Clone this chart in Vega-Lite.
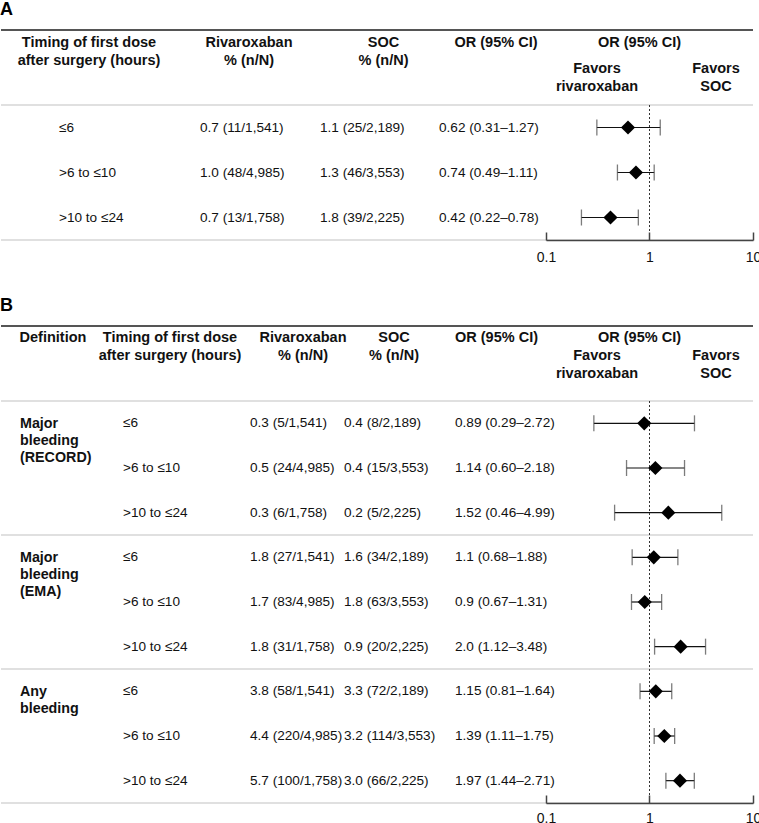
{
  "$schema": "https://vega.github.io/schema/vega-lite/v6.json",
  "background": "white",
  "padding": {"top": 1, "left": 0, "right": 0, "bottom": 0},
  "spacing": 33,
  "config": {
    "view": {"stroke": null},
    "concat": {"spacing": 0},
    "text": {"font": "Liberation Sans", "color": "#111"},
    "title": {"font": "Liberation Sans", "fontSize": 18, "fontWeight": "bold", "anchor": "start", "offset": 10, "color": "#000"}
  },
  "datasets": {
    "a": [
      {"timing": "≤6", "riva": "0.7 (11/1,541)", "soc": "1.1 (25/2,189)", "ci": "0.62 (0.31–1.27)", "est": 0.62, "lo": 0.31, "hi": 1.27},
      {"timing": ">6 to ≤10", "riva": "1.0 (48/4,985)", "soc": "1.3 (46/3,553)", "ci": "0.74 (0.49–1.11)", "est": 0.74, "lo": 0.49, "hi": 1.11},
      {"timing": ">10 to ≤24", "riva": "0.7 (13/1,758)", "soc": "1.8 (39/2,225)", "ci": "0.42 (0.22–0.78)", "est": 0.42, "lo": 0.22, "hi": 0.78}
    ],
    "b": [
      {"id": "RECORD ≤6", "definition": "Major bleeding (RECORD)", "timing": "≤6", "riva": "0.3 (5/1,541)", "soc": "0.4 (8/2,189)", "ci": "0.89 (0.29–2.72)", "est": 0.89, "lo": 0.29, "hi": 2.72},
      {"id": "RECORD >6 to ≤10", "definition": "Major bleeding (RECORD)", "timing": ">6 to ≤10", "riva": "0.5 (24/4,985)", "soc": "0.4 (15/3,553)", "ci": "1.14 (0.60–2.18)", "est": 1.14, "lo": 0.60, "hi": 2.18},
      {"id": "RECORD >10 to ≤24", "definition": "Major bleeding (RECORD)", "timing": ">10 to ≤24", "riva": "0.3 (6/1,758)", "soc": "0.2 (5/2,225)", "ci": "1.52 (0.46–4.99)", "est": 1.52, "lo": 0.46, "hi": 4.99},
      {"id": "EMA ≤6", "definition": "Major bleeding (EMA)", "timing": "≤6", "riva": "1.8 (27/1,541)", "soc": "1.6 (34/2,189)", "ci": "1.1 (0.68–1.88)", "est": 1.1, "lo": 0.68, "hi": 1.88},
      {"id": "EMA >6 to ≤10", "definition": "Major bleeding (EMA)", "timing": ">6 to ≤10", "riva": "1.7 (83/4,985)", "soc": "1.8 (63/3,553)", "ci": "0.9 (0.67–1.31)", "est": 0.9, "lo": 0.67, "hi": 1.31},
      {"id": "EMA >10 to ≤24", "definition": "Major bleeding (EMA)", "timing": ">10 to ≤24", "riva": "1.8 (31/1,758)", "soc": "0.9 (20/2,225)", "ci": "2.0 (1.12–3.48)", "est": 2.0, "lo": 1.12, "hi": 3.48},
      {"id": "Any ≤6", "definition": "Any bleeding", "timing": "≤6", "riva": "3.8 (58/1,541)", "soc": "3.3 (72/2,189)", "ci": "1.15 (0.81–1.64)", "est": 1.15, "lo": 0.81, "hi": 1.64},
      {"id": "Any >6 to ≤10", "definition": "Any bleeding", "timing": ">6 to ≤10", "riva": "4.4 (220/4,985)", "soc": "3.2 (114/3,553)", "ci": "1.39 (1.11–1.75)", "est": 1.39, "lo": 1.11, "hi": 1.75},
      {"id": "Any >10 to ≤24", "definition": "Any bleeding", "timing": ">10 to ≤24", "riva": "5.7 (100/1,758)", "soc": "3.0 (66/2,225)", "ci": "1.97 (1.44–2.71)", "est": 1.97, "lo": 1.44, "hi": 2.71}
    ]
  },
  "vconcat": [
    {
      "title": {"text": "A"},
      "spacing": 0,
      "vconcat": [
        {
          "bounds": "flush",
          "spacing": 0,
          "hconcat": [
            {"width": 176, "height": 74, "data": {"values": [{"label": "Timing of first dose\nafter surgery (hours)"}]},
             "layer": [
               {"mark": {"type": "rule", "color": "#555", "strokeWidth": 2}, "encoding": {"y": {"datum": "h", "type": "nominal", "bandPosition": 0, "scale": {"type": "band", "domain": ["h"], "paddingInner": 0, "paddingOuter": 0}, "axis": null}}},
               {"mark": {"type": "text", "align": "center", "baseline": "top", "fontSize": 14.5, "fontWeight": "bold", "lineBreak": "\n", "lineHeight": 18}, "encoding": {"y": {"datum": "h", "type": "nominal", "bandPosition": 0.08, "axis": null}, "text": {"field": "label"}}}
             ]},
            {"width": 144, "height": 74, "data": {"values": [{"label": "Rivaroxaban\n% (n/N)"}]},
             "layer": [
               {"mark": {"type": "rule", "color": "#555", "strokeWidth": 2}, "encoding": {"y": {"datum": "h", "type": "nominal", "bandPosition": 0, "scale": {"type": "band", "domain": ["h"], "paddingInner": 0, "paddingOuter": 0}, "axis": null}}},
               {"mark": {"type": "text", "align": "center", "baseline": "top", "fontSize": 14.5, "fontWeight": "bold", "lineBreak": "\n", "lineHeight": 18}, "encoding": {"y": {"datum": "h", "type": "nominal", "bandPosition": 0.08, "axis": null}, "text": {"field": "label"}}}
             ]},
            {"width": 125, "height": 74, "data": {"values": [{"label": "SOC\n% (n/N)"}]},
             "layer": [
               {"mark": {"type": "rule", "color": "#555", "strokeWidth": 2}, "encoding": {"y": {"datum": "h", "type": "nominal", "bandPosition": 0, "scale": {"type": "band", "domain": ["h"], "paddingInner": 0, "paddingOuter": 0}, "axis": null}}},
               {"mark": {"type": "text", "align": "center", "baseline": "top", "fontSize": 14.5, "fontWeight": "bold", "lineBreak": "\n", "lineHeight": 18}, "encoding": {"y": {"datum": "h", "type": "nominal", "bandPosition": 0.08, "axis": null}, "text": {"field": "label"}}}
             ]},
            {"width": 100, "height": 74, "data": {"values": [{"label": "OR (95% CI)"}]},
             "layer": [
               {"mark": {"type": "rule", "color": "#555", "strokeWidth": 2}, "encoding": {"y": {"datum": "h", "type": "nominal", "bandPosition": 0, "scale": {"type": "band", "domain": ["h"], "paddingInner": 0, "paddingOuter": 0}, "axis": null}}},
               {"mark": {"type": "text", "align": "center", "baseline": "top", "fontSize": 14.5, "fontWeight": "bold", "lineBreak": "\n", "lineHeight": 18}, "encoding": {"y": {"datum": "h", "type": "nominal", "bandPosition": 0.08, "axis": null}, "text": {"field": "label"}}}
             ]},
            {"width": 207, "height": 74,
             "layer": [
               {"data": {"values": [{"label": "OR (95% CI)"}]}, "mark": {"type": "rule", "color": "#555", "strokeWidth": 2}, "encoding": {"y": {"datum": "h", "type": "nominal", "bandPosition": 0, "scale": {"type": "band", "domain": ["h"], "paddingInner": 0, "paddingOuter": 0}, "axis": null}}},
               {"data": {"values": [{"label": "OR (95% CI)"}]}, "mark": {"type": "text", "align": "center", "baseline": "top", "fontSize": 14.5, "fontWeight": "bold", "dx": -10}, "encoding": {"y": {"datum": "h", "type": "nominal", "bandPosition": 0.08, "axis": null}, "text": {"field": "label"}}},
               {"data": {"values": [{"label": "Favors\nrivaroxaban", "side": "rivaroxaban"}, {"label": "Favors\nSOC", "side": "SOC"}]}, "mark": {"type": "text", "align": "center", "baseline": "top", "fontSize": 14.5, "fontWeight": "bold", "lineBreak": "\n", "lineHeight": 18}, "encoding": {"x": {"field": "side", "type": "nominal", "scale": {"type": "point", "domain": ["rivaroxaban", "SOC"], "range": [51, 170], "padding": 0}, "axis": null}, "y": {"datum": "h", "type": "nominal", "bandPosition": 0.428, "axis": null}, "text": {"field": "label"}}}
             ]}
          ]
        },
        {
          "bounds": "flush",
          "spacing": 0,
          "hconcat": [
            {"width": 116, "height": 135, "data": {"name": "a"},
             "layer": [
               {"transform": [{"filter": "datum.timing === '≤6'"}], "mark": {"type": "rule", "color": "#e0e0e0", "strokeWidth": 2}, "encoding": {"y": {"field": "timing", "type": "nominal", "bandPosition": 0, "scale": {"type": "band", "domain": ["≤6", ">6 to ≤10", ">10 to ≤24"], "paddingInner": 0, "paddingOuter": 0}, "axis": null}}},
               {"transform": [{"filter": "datum.timing === '>10 to ≤24'"}], "mark": {"type": "rule", "color": "#e0e0e0", "strokeWidth": 2}, "encoding": {"y": {"field": "timing", "type": "nominal", "bandPosition": 1, "axis": null}}},
               {"mark": {"type": "text", "align": "left", "baseline": "middle", "fontSize": 13.6}, "encoding": {"y": {"field": "timing", "type": "nominal", "axis": null}, "text": {"field": "timing"}}}
             ]},
            {"width": 166, "height": 135, "data": {"name": "a"},
             "layer": [
               {"transform": [{"filter": "datum.timing === '≤6'"}], "mark": {"type": "rule", "color": "#e0e0e0", "strokeWidth": 2}, "encoding": {"y": {"field": "timing", "type": "nominal", "bandPosition": 0, "scale": {"type": "band", "domain": ["≤6", ">6 to ≤10", ">10 to ≤24"], "paddingInner": 0, "paddingOuter": 0}, "axis": null}}},
               {"transform": [{"filter": "datum.timing === '>10 to ≤24'"}], "mark": {"type": "rule", "color": "#e0e0e0", "strokeWidth": 2}, "encoding": {"y": {"field": "timing", "type": "nominal", "bandPosition": 1, "axis": null}}},
               {"mark": {"type": "text", "align": "left", "baseline": "middle", "fontSize": 13.6}, "encoding": {"y": {"field": "timing", "type": "nominal", "axis": null}, "text": {"field": "riva"}}}
             ]},
            {"width": 74, "height": 135, "data": {"name": "a"},
             "layer": [
               {"transform": [{"filter": "datum.timing === '≤6'"}], "mark": {"type": "rule", "color": "#e0e0e0", "strokeWidth": 2}, "encoding": {"y": {"field": "timing", "type": "nominal", "bandPosition": 0, "scale": {"type": "band", "domain": ["≤6", ">6 to ≤10", ">10 to ≤24"], "paddingInner": 0, "paddingOuter": 0}, "axis": null}}},
               {"transform": [{"filter": "datum.timing === '>10 to ≤24'"}], "mark": {"type": "rule", "color": "#e0e0e0", "strokeWidth": 2}, "encoding": {"y": {"field": "timing", "type": "nominal", "bandPosition": 1, "axis": null}}},
               {"mark": {"type": "text", "align": "left", "baseline": "middle", "fontSize": 13.6}, "encoding": {"y": {"field": "timing", "type": "nominal", "axis": null}, "text": {"field": "soc"}}}
             ]},
            {"width": 164, "height": 135, "data": {"name": "a"},
             "layer": [
               {"transform": [{"filter": "datum.timing === '≤6'"}], "mark": {"type": "rule", "color": "#e0e0e0", "strokeWidth": 2}, "encoding": {"y": {"field": "timing", "type": "nominal", "bandPosition": 0, "scale": {"type": "band", "domain": ["≤6", ">6 to ≤10", ">10 to ≤24"], "paddingInner": 0, "paddingOuter": 0}, "axis": null}}},
               {"transform": [{"filter": "datum.timing === '>10 to ≤24'"}], "mark": {"type": "rule", "color": "#e0e0e0", "strokeWidth": 2}, "encoding": {"y": {"field": "timing", "type": "nominal", "bandPosition": 1, "axis": null}}},
               {"mark": {"type": "text", "align": "left", "baseline": "middle", "fontSize": 13.6}, "encoding": {"y": {"field": "timing", "type": "nominal", "axis": null}, "text": {"field": "ci"}}}
             ]},
            {"width": 232, "height": 135, "data": {"name": "a"},
             "layer": [
               {"transform": [{"filter": "datum.timing === '≤6'"}], "mark": {"type": "rule", "color": "#e0e0e0", "strokeWidth": 2}, "encoding": {"y": {"field": "timing", "type": "nominal", "bandPosition": 0, "scale": {"type": "band", "domain": ["≤6", ">6 to ≤10", ">10 to ≤24"], "paddingInner": 0, "paddingOuter": 0}, "axis": null}}},
               {"transform": [{"filter": "datum.timing === '>10 to ≤24'"}], "mark": {"type": "rule", "color": "#e0e0e0", "strokeWidth": 2}, "encoding": {"y": {"field": "timing", "type": "nominal", "bandPosition": 1, "axis": null}}},
               {"mark": {"type": "rule", "color": "#111", "strokeWidth": 1.2}, "encoding": {"x": {"field": "lo", "type": "quantitative", "scale": {"type": "log", "domain": [0.1, 10], "range": [25, 232]}, "axis": {"orient": "bottom", "values": [0.1, 1, 10], "format": "~g", "grid": false, "title": null, "zindex": 1, "domainColor": "#444", "domainWidth": 1.5, "tickColor": "#444", "tickWidth": 1.5, "tickSize": -8, "labelFontSize": 14, "labelColor": "#111", "labelFont": "Liberation Sans", "labelPadding": 18, "labelFlush": false}}, "x2": {"field": "hi"}, "y": {"field": "timing", "type": "nominal", "axis": null}}},
               {"mark": {"type": "tick", "orient": "vertical", "size": 16, "thickness": 1.3, "color": "#444"}, "encoding": {"x": {"field": "lo", "type": "quantitative"}, "y": {"field": "timing", "type": "nominal", "axis": null}}},
               {"mark": {"type": "tick", "orient": "vertical", "size": 16, "thickness": 1.3, "color": "#444"}, "encoding": {"x": {"field": "hi", "type": "quantitative"}, "y": {"field": "timing", "type": "nominal", "axis": null}}},
               {"data": {"values": [{"ref": 1}]}, "mark": {"type": "rule", "color": "#333", "strokeWidth": 1, "strokeDash": [2, 2]}, "encoding": {"x": {"field": "ref", "type": "quantitative"}}},
               {"mark": {"type": "point", "shape": "diamond", "filled": true, "color": "#000", "opacity": 1, "size": 200}, "encoding": {"x": {"field": "est", "type": "quantitative"}, "y": {"field": "timing", "type": "nominal", "axis": null}}}
             ]}
          ]
        }
      ]
    },
    {
      "title": {"text": "B"},
      "spacing": 0,
      "vconcat": [
        {
          "bounds": "flush",
          "spacing": 0,
          "hconcat": [
            {"width": 104, "height": 74, "data": {"values": [{"label": "Definition"}]},
             "layer": [
               {"mark": {"type": "rule", "color": "#555", "strokeWidth": 2}, "encoding": {"y": {"datum": "h", "type": "nominal", "bandPosition": 0, "scale": {"type": "band", "domain": ["h"], "paddingInner": 0, "paddingOuter": 0}, "axis": null}}},
               {"mark": {"type": "text", "align": "center", "baseline": "top", "fontSize": 14.5, "fontWeight": "bold", "lineBreak": "\n", "lineHeight": 18}, "encoding": {"y": {"datum": "h", "type": "nominal", "bandPosition": 0.069, "axis": null}, "text": {"field": "label"}}}
             ]},
            {"width": 130, "height": 74, "data": {"values": [{"label": "Timing of first dose\nafter surgery (hours)"}]},
             "layer": [
               {"mark": {"type": "rule", "color": "#555", "strokeWidth": 2}, "encoding": {"y": {"datum": "h", "type": "nominal", "bandPosition": 0, "scale": {"type": "band", "domain": ["h"], "paddingInner": 0, "paddingOuter": 0}, "axis": null}}},
               {"mark": {"type": "text", "align": "center", "baseline": "top", "fontSize": 14.5, "fontWeight": "bold", "lineBreak": "\n", "lineHeight": 18}, "encoding": {"y": {"datum": "h", "type": "nominal", "bandPosition": 0.069, "axis": null}, "text": {"field": "label"}}}
             ]},
            {"width": 136, "height": 74, "data": {"values": [{"label": "Rivaroxaban\n% (n/N)"}]},
             "layer": [
               {"mark": {"type": "rule", "color": "#555", "strokeWidth": 2}, "encoding": {"y": {"datum": "h", "type": "nominal", "bandPosition": 0, "scale": {"type": "band", "domain": ["h"], "paddingInner": 0, "paddingOuter": 0}, "axis": null}}},
               {"mark": {"type": "text", "align": "center", "baseline": "top", "fontSize": 14.5, "fontWeight": "bold", "lineBreak": "\n", "lineHeight": 18}, "encoding": {"y": {"datum": "h", "type": "nominal", "bandPosition": 0.069, "axis": null}, "text": {"field": "label"}}}
             ]},
            {"width": 46, "height": 74, "data": {"values": [{"label": "SOC\n% (n/N)"}]},
             "layer": [
               {"mark": {"type": "rule", "color": "#555", "strokeWidth": 2}, "encoding": {"y": {"datum": "h", "type": "nominal", "bandPosition": 0, "scale": {"type": "band", "domain": ["h"], "paddingInner": 0, "paddingOuter": 0}, "axis": null}}},
               {"mark": {"type": "text", "align": "center", "baseline": "top", "fontSize": 14.5, "fontWeight": "bold", "lineBreak": "\n", "lineHeight": 18}, "encoding": {"y": {"datum": "h", "type": "nominal", "bandPosition": 0.069, "axis": null}, "text": {"field": "label"}}}
             ]},
            {"width": 129, "height": 74, "data": {"values": [{"label": "OR (95% CI)"}]},
             "layer": [
               {"mark": {"type": "rule", "color": "#555", "strokeWidth": 2}, "encoding": {"y": {"datum": "h", "type": "nominal", "bandPosition": 0, "scale": {"type": "band", "domain": ["h"], "paddingInner": 0, "paddingOuter": 0}, "axis": null}}},
               {"mark": {"type": "text", "align": "center", "baseline": "top", "fontSize": 14.5, "fontWeight": "bold", "dx": 15}, "encoding": {"y": {"datum": "h", "type": "nominal", "bandPosition": 0.069, "axis": null}, "text": {"field": "label"}}}
             ]},
            {"width": 207, "height": 74,
             "layer": [
               {"data": {"values": [{"label": "OR (95% CI)"}]}, "mark": {"type": "rule", "color": "#555", "strokeWidth": 2}, "encoding": {"y": {"datum": "h", "type": "nominal", "bandPosition": 0, "scale": {"type": "band", "domain": ["h"], "paddingInner": 0, "paddingOuter": 0}, "axis": null}}},
               {"data": {"values": [{"label": "OR (95% CI)"}]}, "mark": {"type": "text", "align": "center", "baseline": "top", "fontSize": 14.5, "fontWeight": "bold", "dx": -10}, "encoding": {"y": {"datum": "h", "type": "nominal", "bandPosition": 0.069, "axis": null}, "text": {"field": "label"}}},
               {"data": {"values": [{"label": "Favors\nrivaroxaban", "side": "rivaroxaban"}, {"label": "Favors\nSOC", "side": "SOC"}]}, "mark": {"type": "text", "align": "center", "baseline": "top", "fontSize": 14.5, "fontWeight": "bold", "lineBreak": "\n", "lineHeight": 18}, "encoding": {"x": {"field": "side", "type": "nominal", "scale": {"type": "point", "domain": ["rivaroxaban", "SOC"], "range": [51, 170], "padding": 0}, "axis": null}, "y": {"datum": "h", "type": "nominal", "bandPosition": 0.308, "axis": null}, "text": {"field": "label"}}}
             ]}
          ]
        },
        {
          "bounds": "flush",
          "spacing": 0,
          "hconcat": [
            {"width": 38, "height": 402, "data": {"name": "b"},
             "layer": [
               {"transform": [{"filter": "datum.timing === '≤6'"}], "mark": {"type": "rule", "color": "#e0e0e0", "strokeWidth": 2}, "encoding": {"y": {"field": "id", "type": "nominal", "bandPosition": 0, "scale": {"type": "band", "domain": ["RECORD ≤6", "RECORD >6 to ≤10", "RECORD >10 to ≤24", "EMA ≤6", "EMA >6 to ≤10", "EMA >10 to ≤24", "Any ≤6", "Any >6 to ≤10", "Any >10 to ≤24"], "paddingInner": 0, "paddingOuter": 0}, "axis": null}}},
               {"transform": [{"filter": "datum.timing === '>10 to ≤24'"}], "mark": {"type": "rule", "color": "#e0e0e0", "strokeWidth": 2}, "encoding": {"y": {"field": "id", "type": "nominal", "bandPosition": 1, "axis": null}}},
               {"transform": [{"filter": "datum.timing === '≤6'"}], "mark": {"type": "text", "align": "left", "baseline": "top", "fontSize": 14.3, "fontWeight": "bold", "lineBreak": " ", "lineHeight": 17}, "encoding": {"y": {"field": "id", "type": "nominal", "bandPosition": 0.36, "axis": null}, "text": {"field": "definition"}}}
             ]},
            {"width": 168, "height": 402, "data": {"name": "b"},
             "layer": [
               {"transform": [{"filter": "datum.timing === '≤6'"}], "mark": {"type": "rule", "color": "#e0e0e0", "strokeWidth": 2}, "encoding": {"y": {"field": "id", "type": "nominal", "bandPosition": 0, "scale": {"type": "band", "domain": ["RECORD ≤6", "RECORD >6 to ≤10", "RECORD >10 to ≤24", "EMA ≤6", "EMA >6 to ≤10", "EMA >10 to ≤24", "Any ≤6", "Any >6 to ≤10", "Any >10 to ≤24"], "paddingInner": 0, "paddingOuter": 0}, "axis": null}}},
               {"transform": [{"filter": "datum.timing === '>10 to ≤24'"}], "mark": {"type": "rule", "color": "#e0e0e0", "strokeWidth": 2}, "encoding": {"y": {"field": "id", "type": "nominal", "bandPosition": 1, "axis": null}}},
               {"mark": {"type": "text", "align": "left", "baseline": "middle", "fontSize": 13.6}, "encoding": {"y": {"field": "id", "type": "nominal", "axis": null}, "text": {"field": "timing"}}}
             ]},
            {"width": 86, "height": 402, "data": {"name": "b"},
             "layer": [
               {"transform": [{"filter": "datum.timing === '≤6'"}], "mark": {"type": "rule", "color": "#e0e0e0", "strokeWidth": 2}, "encoding": {"y": {"field": "id", "type": "nominal", "bandPosition": 0, "scale": {"type": "band", "domain": ["RECORD ≤6", "RECORD >6 to ≤10", "RECORD >10 to ≤24", "EMA ≤6", "EMA >6 to ≤10", "EMA >10 to ≤24", "Any ≤6", "Any >6 to ≤10", "Any >10 to ≤24"], "paddingInner": 0, "paddingOuter": 0}, "axis": null}}},
               {"transform": [{"filter": "datum.timing === '>10 to ≤24'"}], "mark": {"type": "rule", "color": "#e0e0e0", "strokeWidth": 2}, "encoding": {"y": {"field": "id", "type": "nominal", "bandPosition": 1, "axis": null}}},
               {"mark": {"type": "text", "align": "left", "baseline": "middle", "fontSize": 13.6}, "encoding": {"y": {"field": "id", "type": "nominal", "axis": null}, "text": {"field": "riva"}}}
             ]},
            {"width": 102, "height": 402, "data": {"name": "b"},
             "layer": [
               {"transform": [{"filter": "datum.timing === '≤6'"}], "mark": {"type": "rule", "color": "#e0e0e0", "strokeWidth": 2}, "encoding": {"y": {"field": "id", "type": "nominal", "bandPosition": 0, "scale": {"type": "band", "domain": ["RECORD ≤6", "RECORD >6 to ≤10", "RECORD >10 to ≤24", "EMA ≤6", "EMA >6 to ≤10", "EMA >10 to ≤24", "Any ≤6", "Any >6 to ≤10", "Any >10 to ≤24"], "paddingInner": 0, "paddingOuter": 0}, "axis": null}}},
               {"transform": [{"filter": "datum.timing === '>10 to ≤24'"}], "mark": {"type": "rule", "color": "#e0e0e0", "strokeWidth": 2}, "encoding": {"y": {"field": "id", "type": "nominal", "bandPosition": 1, "axis": null}}},
               {"mark": {"type": "text", "align": "left", "baseline": "middle", "fontSize": 13.6}, "encoding": {"y": {"field": "id", "type": "nominal", "axis": null}, "text": {"field": "soc"}}}
             ]},
            {"width": 120, "height": 402, "data": {"name": "b"},
             "layer": [
               {"transform": [{"filter": "datum.timing === '≤6'"}], "mark": {"type": "rule", "color": "#e0e0e0", "strokeWidth": 2}, "encoding": {"y": {"field": "id", "type": "nominal", "bandPosition": 0, "scale": {"type": "band", "domain": ["RECORD ≤6", "RECORD >6 to ≤10", "RECORD >10 to ≤24", "EMA ≤6", "EMA >6 to ≤10", "EMA >10 to ≤24", "Any ≤6", "Any >6 to ≤10", "Any >10 to ≤24"], "paddingInner": 0, "paddingOuter": 0}, "axis": null}}},
               {"transform": [{"filter": "datum.timing === '>10 to ≤24'"}], "mark": {"type": "rule", "color": "#e0e0e0", "strokeWidth": 2}, "encoding": {"y": {"field": "id", "type": "nominal", "bandPosition": 1, "axis": null}}},
               {"mark": {"type": "text", "align": "left", "baseline": "middle", "fontSize": 13.6}, "encoding": {"y": {"field": "id", "type": "nominal", "axis": null}, "text": {"field": "ci"}}}
             ]},
            {"width": 238, "height": 402, "data": {"name": "b"},
             "layer": [
               {"transform": [{"filter": "datum.timing === '≤6'"}], "mark": {"type": "rule", "color": "#e0e0e0", "strokeWidth": 2}, "encoding": {"y": {"field": "id", "type": "nominal", "bandPosition": 0, "scale": {"type": "band", "domain": ["RECORD ≤6", "RECORD >6 to ≤10", "RECORD >10 to ≤24", "EMA ≤6", "EMA >6 to ≤10", "EMA >10 to ≤24", "Any ≤6", "Any >6 to ≤10", "Any >10 to ≤24"], "paddingInner": 0, "paddingOuter": 0}, "axis": null}}},
               {"transform": [{"filter": "datum.timing === '>10 to ≤24'"}], "mark": {"type": "rule", "color": "#e0e0e0", "strokeWidth": 2}, "encoding": {"y": {"field": "id", "type": "nominal", "bandPosition": 1, "axis": null}}},
               {"mark": {"type": "rule", "color": "#111", "strokeWidth": 1.2}, "encoding": {"x": {"field": "lo", "type": "quantitative", "scale": {"type": "log", "domain": [0.1, 10], "range": [31, 238]}, "axis": {"orient": "bottom", "values": [0.1, 1, 10], "format": "~g", "grid": false, "title": null, "zindex": 1, "domainColor": "#444", "domainWidth": 1.5, "tickColor": "#444", "tickWidth": 1.5, "tickSize": -8, "labelFontSize": 14, "labelColor": "#111", "labelFont": "Liberation Sans", "labelPadding": 16, "labelFlush": false}}, "x2": {"field": "hi"}, "y": {"field": "id", "type": "nominal", "axis": null}}},
               {"mark": {"type": "tick", "orient": "vertical", "size": 16, "thickness": 1.3, "color": "#444"}, "encoding": {"x": {"field": "lo", "type": "quantitative"}, "y": {"field": "id", "type": "nominal", "axis": null}}},
               {"mark": {"type": "tick", "orient": "vertical", "size": 16, "thickness": 1.3, "color": "#444"}, "encoding": {"x": {"field": "hi", "type": "quantitative"}, "y": {"field": "id", "type": "nominal", "axis": null}}},
               {"data": {"values": [{"ref": 1}]}, "mark": {"type": "rule", "color": "#333", "strokeWidth": 1, "strokeDash": [2, 2]}, "encoding": {"x": {"field": "ref", "type": "quantitative"}}},
               {"mark": {"type": "point", "shape": "diamond", "filled": true, "color": "#000", "opacity": 1, "size": 200}, "encoding": {"x": {"field": "est", "type": "quantitative"}, "y": {"field": "id", "type": "nominal", "axis": null}}}
             ]}
          ]
        }
      ]
    }
  ]
}
